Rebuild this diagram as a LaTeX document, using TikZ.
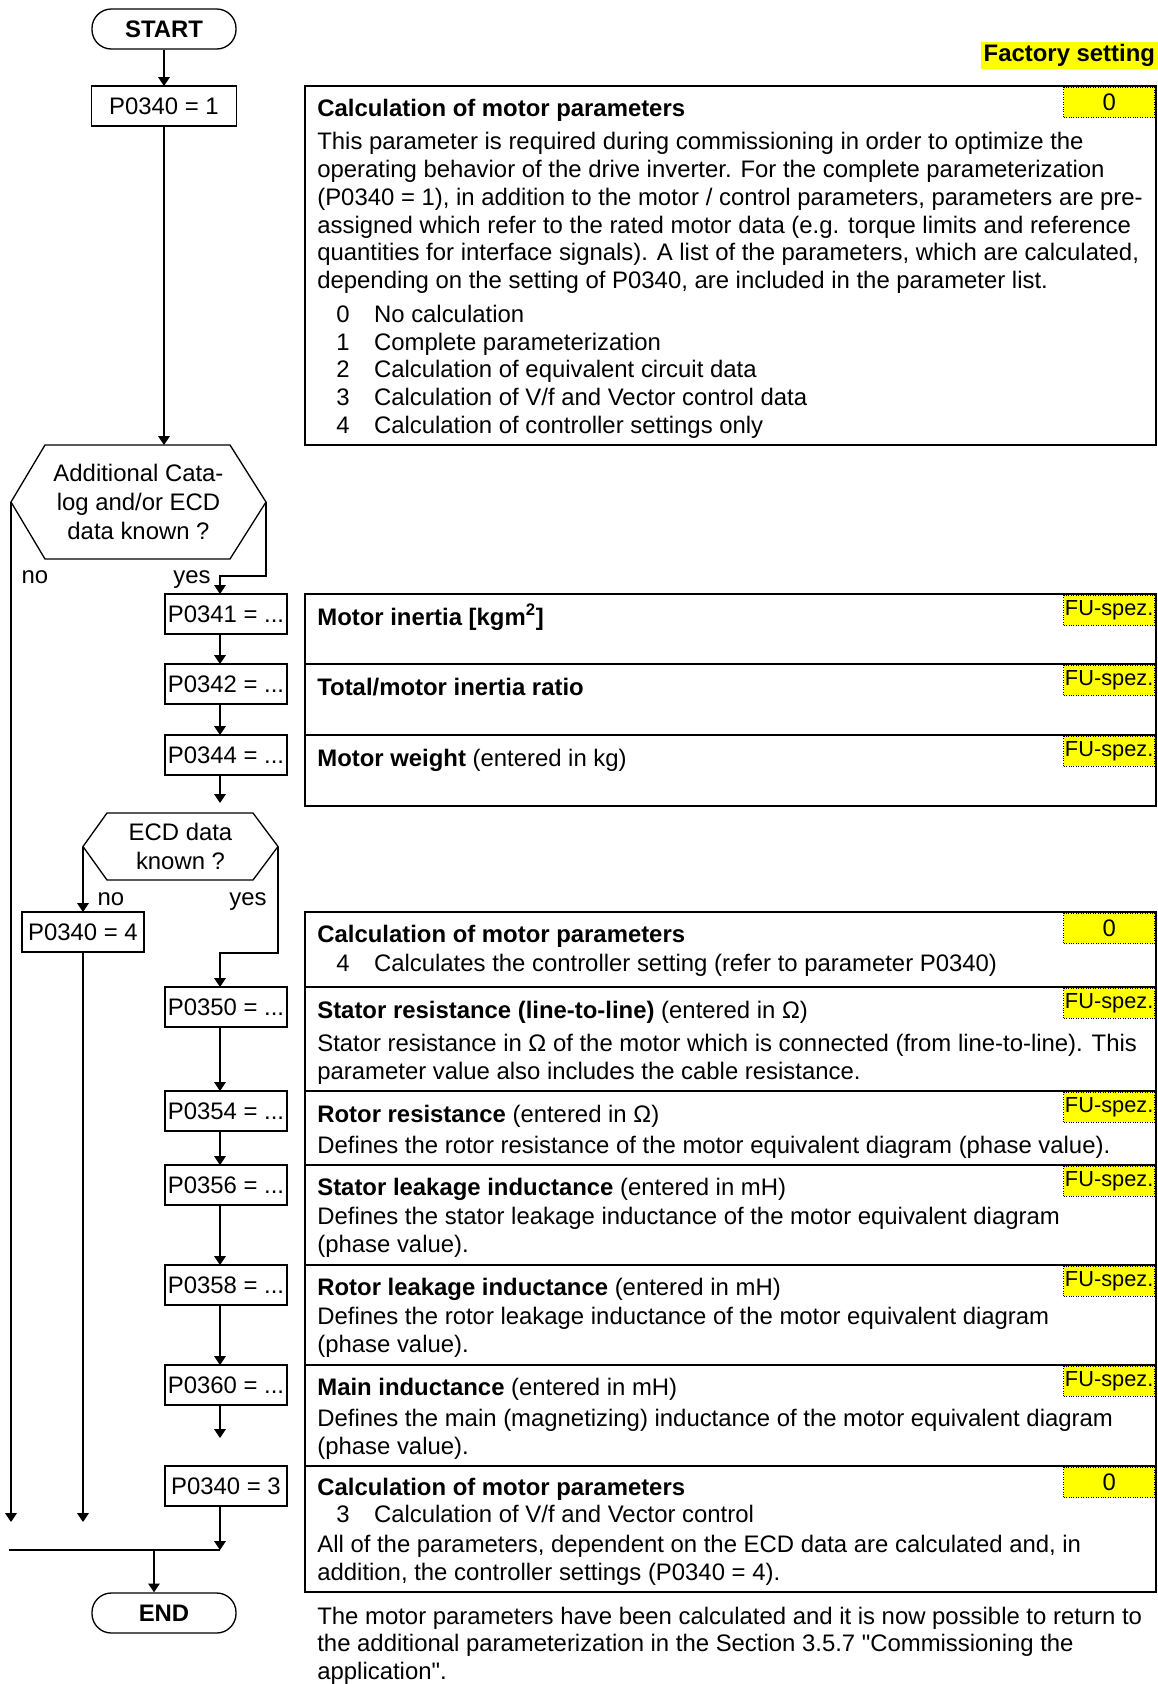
\documentclass[tikz,border=0pt]{standalone}
\usepackage{fontspec}
\setmainfont{Liberation Sans}[Ligatures=TeXOff]
\usetikzlibrary{arrows.meta,positioning,calc}
\definecolor{tagyellow}{RGB}{255,255,0}
\newlength{\pxu}
\setlength{\pxu}{0.02cm}
% first line of the block sits on the node's base line
\newcommand{\toplines}[1]{\begin{tabular}[t]{@{}l@{}}#1\end{tabular}}

\begin{document}
\begin{tikzpicture}[x=0.02cm,y=-0.02cm,
    every node/.style={font=\fontsize{13.6pt}{15.9pt}\selectfont},
    ln/.style={draw,line width=0.75pt},
    arr/.style={draw,line width=0.75pt,-{Triangle[length=5pt,width=6.5pt]}},
    term/.style={draw,line width=0.75pt,rounded corners=11pt,minimum width=144\pxu,minimum height=40\pxu,inner sep=0pt},
    pbox/.style={draw,line width=0.75pt,minimum width=122\pxu,minimum height=40\pxu,inner sep=0pt,outer sep=0pt},
    dec/.style={align=center,inner sep=0pt,outer sep=0pt,font=\fontsize{13.6pt}{16.6pt}\selectfont},
    row/.style={draw,line width=1.1pt,minimum width=851\pxu,inner sep=0pt,outer sep=0pt},
    txt/.style={anchor=base west,inner sep=0pt},
    tag/.style={fill=tagyellow,draw,densely dotted,line width=0.4pt,minimum width=91\pxu,minimum height=30\pxu,inner sep=0pt,anchor=north east},
    fu/.style={tag,font=\fontsize{12.4pt}{14pt}\selectfont}]
  \useasboundingbox (0,0) rectangle (1158,1684);

  % right column: parameter descriptions
  \node[fill=tagyellow,inner xsep=1.5pt,inner ysep=0pt,minimum height=27\pxu,anchor=north east] (factory) at (1158,42) {\textbf{Factory setting}};

  \node[row,minimum height=359\pxu,anchor=north west] (calc1) at (305,86) {};
  \node[tag] (tag1) at ([shift={(-1,1)}]calc1.north east) {0};
  \node[txt] (calc1t) at ([shift={(12,30)}]calc1.north west) {\toplines{\textbf{Calculation of motor parameters}\\[3pt]
    This parameter is required during commissioning in order to optimize the\\
    operating behavior of the drive inverter. For the complete parameterization\\
    (P0340 = 1), in addition to the motor / control parameters, parameters are pre-\\
    assigned which refer to the rated motor data (e.g. torque limits and reference\\
    quantities for interface signals). A list of the parameters, which are calculated,\\
    depending on the setting of P0340, are included in the parameter list.\\[3pt]
    \hspace*{10.8pt}\makebox[21.5pt][l]{0}No calculation\\
    \hspace*{10.8pt}\makebox[21.5pt][l]{1}Complete parameterization\\
    \hspace*{10.8pt}\makebox[21.5pt][l]{2}Calculation of equivalent circuit data\\
    \hspace*{10.8pt}\makebox[21.5pt][l]{3}Calculation of V/f and Vector control data\\
    \hspace*{10.8pt}\makebox[21.5pt][l]{4}Calculation of controller settings only}};

  \node[row,minimum height=70\pxu,anchor=north west] (inert) at (305,594) {};
  \node[row,minimum height=71\pxu,below=0pt of inert] (ratio) {};
  \node[row,minimum height=71\pxu,below=0pt of ratio] (weight) {};
  \node[fu] (tag2) at ([shift={(-1,1)}]inert.north east) {FU-spez.};
  \node[fu] (tag3) at ([shift={(-1,1)}]ratio.north east) {FU-spez.};
  \node[fu] (tag4) at ([shift={(-1,1)}]weight.north east) {FU-spez.};
  \node[txt] (inertt) at ([shift={(12,31)}]inert.north west) {\textbf{Motor inertia [kgm\textsuperscript{2}]}};
  \node[txt] (ratiot) at ([shift={(12,31)}]ratio.north west) {\textbf{Total/motor inertia ratio}};
  \node[txt] (weightt) at ([shift={(12,31)}]weight.north west) {\textbf{Motor weight} (entered in kg)};

  \node[row,minimum height=75\pxu,anchor=north west] (calc4) at (305,912) {};
  \node[row,minimum height=104\pxu,below=0pt of calc4] (rs) {};
  \node[row,minimum height=74\pxu,below=0pt of rs] (rr) {};
  \node[row,minimum height=100\pxu,below=0pt of rr] (sl) {};
  \node[row,minimum height=100\pxu,below=0pt of sl] (rl) {};
  \node[row,minimum height=101\pxu,below=0pt of rl] (mi) {};
  \node[row,minimum height=126\pxu,below=0pt of mi] (calc3) {};
  \node[tag] (tag5) at ([shift={(-1,1)}]calc4.north east) {0};
  \node[fu] (tag6) at ([shift={(-1,1)}]rs.north east) {FU-spez.};
  \node[fu] (tag7) at ([shift={(-1,1)}]rr.north east) {FU-spez.};
  \node[fu] (tag8) at ([shift={(-1,1)}]sl.north east) {FU-spez.};
  \node[fu] (tag9) at ([shift={(-1,1)}]rl.north east) {FU-spez.};
  \node[fu] (tag10) at ([shift={(-1,1)}]mi.north east) {FU-spez.};
  \node[tag] (tag11) at ([shift={(-1,1)}]calc3.north east) {0};

  \node[txt] (calc4t) at ([shift={(12,30)}]calc4.north west) {\toplines{\textbf{Calculation of motor parameters}\\[1pt]
    \hspace*{10.8pt}\makebox[21.5pt][l]{4}Calculates the controller setting (refer to parameter P0340)}};
  \node[txt] (rst) at ([shift={(12,31)}]rs.north west) {\toplines{\textbf{Stator resistance (line-to-line)} (entered in Ω)\\[3pt]
    Stator resistance in Ω of the motor which is connected (from line-to-line). This\\
    parameter value also includes the cable resistance.}};
  \node[txt] (rrt) at ([shift={(12,31)}]rr.north west) {\toplines{\textbf{Rotor resistance} (entered in Ω)\\[2pt]
    Defines the rotor resistance of the motor equivalent diagram (phase value).}};
  \node[txt] (slt) at ([shift={(12,30)}]sl.north west) {\toplines{\textbf{Stator leakage inductance} (entered in mH)\\[1pt]
    Defines the stator leakage inductance of the motor equivalent diagram\\
    (phase value).}};
  \node[txt] (rlt) at ([shift={(12,30)}]rl.north west) {\toplines{\textbf{Rotor leakage inductance} (entered in mH)\\[1pt]
    Defines the rotor leakage inductance of the motor equivalent diagram\\
    (phase value).}};
  \node[txt] (mit) at ([shift={(12,30)}]mi.north west) {\toplines{\textbf{Main inductance} (entered in mH)\\[2pt]
    Defines the main (magnetizing) inductance of the motor equivalent diagram\\
    (phase value).}};
  \node[txt] (calc3t) at ([shift={(12,29)}]calc3.north west) {\toplines{\textbf{Calculation of motor parameters}\\[0pt]
    \hspace*{10.8pt}\makebox[21.5pt][l]{3}Calculation of V/f and Vector control\\[1pt]
    All of the parameters, dependent on the ECD data are calculated and, in\\
    addition, the controller settings (P0340 = 4).}};
  \node[txt] (note) at ([shift={(12,32)}]calc3.south west) {\toplines{The motor parameters have been calculated and it is now possible to return to\\
    the additional parameterization in the Section 3.5.7 "Commissioning the\\
    application".}};

  % left column: flow chart
  \coordinate (pcol) at (226,0);
  \coordinate (acol) at (220,0);
  \node[term] (start) at (164,29) {\textbf{START}};
  \node[pbox,minimum width=145\pxu,anchor=north] (p1) at (164,0 |- calc1.north) {P0340 = 1};
  \node[dec,minimum width=255\pxu,minimum height=114\pxu] (d1) at (138.5,502) {Additional Cata-\\log and/or ECD\\data known ?};
  \draw[ln] (d1.west) -- ([shift={(34,0)}]d1.north west) -- ([shift={(-36,0)}]d1.north east)
    -- (d1.east) -- ([shift={(-36,0)}]d1.south east) -- ([shift={(34,0)}]d1.south west) -- cycle;
  \node[anchor=base,inner sep=0pt] (no1) at (35,583) {no};
  \node[anchor=base,inner sep=0pt] (yes1) at (192,583) {yes};

  \node[pbox,anchor=north] (p41) at (pcol |- inert.north) {P0341 = ...};
  \node[pbox,anchor=north] (p42) at (pcol |- ratio.north) {P0342 = ...};
  \node[pbox,anchor=north] (p44) at (pcol |- weight.north) {P0344 = ...};

  \node[dec,minimum width=195\pxu,minimum height=67\pxu] (d2) at (180.5,846.5) {ECD data\\known ?};
  \draw[ln] (d2.west) -- ([shift={(24,0)}]d2.north west) -- ([shift={(-25,0)}]d2.north east)
    -- (d2.east) -- ([shift={(-25,0)}]d2.south east) -- ([shift={(24,0)}]d2.south west) -- cycle;
  \node[anchor=base,inner sep=0pt] (no2) at (111,905) {no};
  \node[anchor=base,inner sep=0pt] (yes2) at (248,905) {yes};

  \node[pbox,anchor=north] (p4) at (83,0 |- calc4.north) {P0340 = 4};
  \node[pbox,anchor=north] (p50) at (pcol |- rs.north) {P0350 = ...};
  \node[pbox,anchor=north] (p54) at (pcol |- rr.north) {P0354 = ...};
  \node[pbox,anchor=north] (p56) at (pcol |- sl.north) {P0356 = ...};
  \node[pbox,anchor=north] (p58) at (pcol |- rl.north) {P0358 = ...};
  \node[pbox,anchor=north] (p60) at (pcol |- mi.north) {P0360 = ...};
  \node[pbox,anchor=north] (p3) at (pcol |- calc3.north) {P0340 = 3};
  \node[term] (end) at (164,1613) {\textbf{END}};

  \coordinate (ecdin) at (220,803);
  \coordinate (p60out) at (220,1438);
  \coordinate (noend1) at (11,1522);
  \coordinate (noend2) at (83,1522);
  \coordinate (busl) at (9,1550);
  \coordinate (busr) at (220,1550);
  \coordinate (busj) at (154,1550);

  \draw[arr] (start) -- (p1);
  \draw[arr] (p1) -- (p1 |- d1.north);
  \draw[arr] (d1.west) -- (noend1);
  \draw[arr] (d1.east) -- ++(0,74) -| (p41.north -| acol);
  \draw[arr] (p41.south -| acol) -- (p42.north -| acol);
  \draw[arr] (p42.south -| acol) -- (p44.north -| acol);
  \draw[arr] (p44.south -| acol) -- (ecdin);
  \draw[arr] (d2.west) -- (p4.north);
  \draw[arr] (d2.east) -- ++(0,106.5) -| (p50.north -| acol);
  \draw[arr] (p4.south) -- (noend2);
  \foreach \a/\b in {p50/p54,p54/p56,p56/p58,p58/p60}
    \draw[arr] (\a.south -| acol) -- (\b.north -| acol);
  \draw[arr] (p60.south -| acol) -- (p60out);
  \draw[arr] (p3.south -| acol) -- (busr);
  \draw[ln] (busl) -- (busr);
  \draw[arr] (busj) -- (busj |- end.north);
\end{tikzpicture}
\end{document}
